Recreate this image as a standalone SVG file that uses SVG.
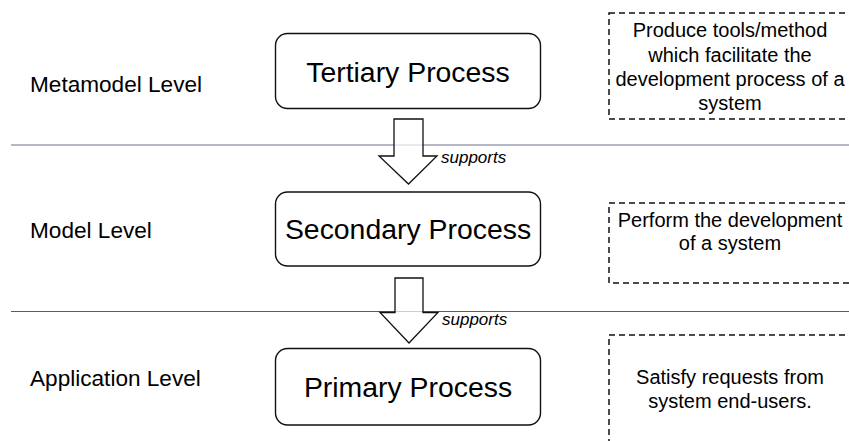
<svg xmlns="http://www.w3.org/2000/svg" width="849" height="441" viewBox="0 0 849 441">
<style>
  .lvl { font-family: "Liberation Sans", Arial, sans-serif; font-size: 22.6px; fill: #000; }
  .proc { fill: #fff; stroke: #111; stroke-width: 1.4; }
  .ptxt { font-family: "Liberation Sans", Arial, sans-serif; font-size: 28.4px; fill: #000; text-anchor: middle; }
  .note { fill: none; stroke: #111; stroke-width: 1.5; stroke-dasharray: 6 4; }
  .ntxt { font-family: "Liberation Sans", Arial, sans-serif; font-size: 20px; fill: #000; text-anchor: middle; }
  .arrow { fill: #fff; fill-opacity: 0.7; stroke: #111; stroke-width: 1.3; stroke-linejoin: miter; }
  .lbl { font-family: "Liberation Sans", Arial, sans-serif; font-size: 17px; font-style: italic; fill: #000; }
</style>
<rect x="0" y="0" width="849" height="441" fill="#fff"/>

<g id="separators">
  <line x1="11" y1="145" x2="849" y2="145" stroke="#9fa1b5" stroke-width="1.5"/>
  <line x1="11" y1="311.5" x2="849" y2="311.5" stroke="#545b78" stroke-width="1.2"/>
</g>

<g id="levels">
  <text id="metamodel-level" class="lvl" x="30" y="92">Metamodel Level</text>
  <text id="model-level" class="lvl" x="30" y="238">Model Level</text>
  <text id="application-level" class="lvl" x="30" y="386">Application Level</text>
</g>

<g id="tertiary">
  <rect class="proc" x="275.5" y="33.5" width="265" height="75" rx="12"/>
  <text class="ptxt" x="408" y="81.5">Tertiary Process</text>
</g>
<g id="secondary">
  <rect class="proc" x="275.5" y="192" width="265" height="74" rx="12"/>
  <text class="ptxt" x="408" y="239">Secondary Process</text>
</g>
<g id="primary">
  <rect class="proc" x="275.5" y="348.5" width="265" height="76.5" rx="12"/>
  <text class="ptxt" x="408" y="396.5">Primary Process</text>
</g>

<g id="connectors">
  <g id="supports-1">
    <path class="arrow" d="M394,119 L423,119 L423,156 L437,156 L408.5,184 L379,156 L394,156 Z"/>
    <text class="lbl" x="441" y="163">supports</text>
  </g>
  <g id="supports-2">
    <path class="arrow" d="M395,278 L423,278 L423,312.5 L438,312.5 L409,343 L380,312.5 L395,312.5 Z"/>
    <text class="lbl" x="442" y="325">supports</text>
  </g>
</g>

<g id="note-tertiary">
  <rect class="note" x="609" y="13" width="260" height="106"/>
  <text class="ntxt" x="730" y="37">Produce tools/method</text>
  <text class="ntxt" x="730" y="61.5">which facilitate the</text>
  <text class="ntxt" x="730" y="86">development process of a</text>
  <text class="ntxt" x="730" y="110">system</text>
</g>
<g id="note-secondary">
  <rect class="note" x="609" y="203" width="260" height="80"/>
  <text class="ntxt" x="730" y="226.5">Perform the development</text>
  <text class="ntxt" x="730" y="250">of a system</text>
</g>
<g id="note-primary">
  <rect class="note" x="609" y="335" width="260" height="120"/>
  <text class="ntxt" x="730" y="383.5">Satisfy requests from</text>
  <text class="ntxt" x="730" y="407.5">system end-users.</text>
</g>
</svg>
